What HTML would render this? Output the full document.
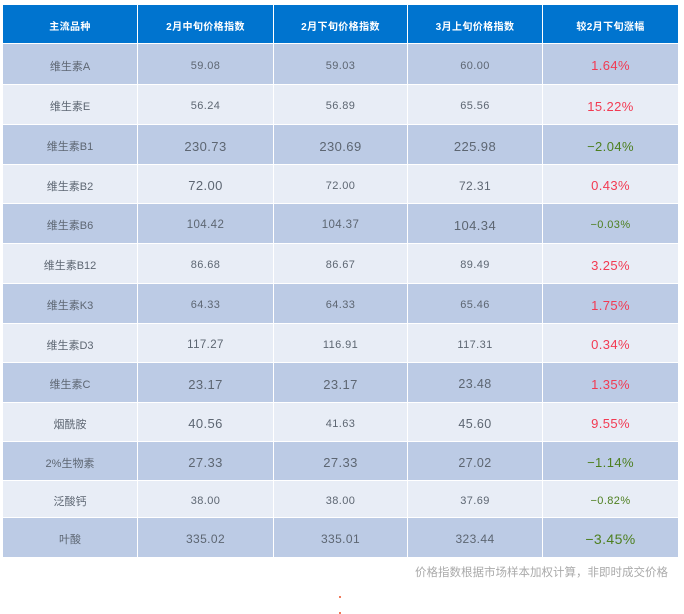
<!DOCTYPE html>
<html><head><meta charset="utf-8">
<style>
html,body{margin:0;padding:0;background:#fff;}
body{width:684px;height:614px;position:relative;overflow:hidden;font-family:"Liberation Sans","Noto Sans CJK SC",sans-serif;}
.c{position:absolute;display:flex;align-items:center;justify-content:center;color:#5d6672;font-size:11px;letter-spacing:0.4px;white-space:nowrap;box-sizing:border-box;padding-top:3px;}
.h{background:#0074cf;color:#fff;font-weight:bold;font-size:10px;letter-spacing:0.4px;padding-top:2px;}
.d{background:#bccbe5;}
.l{background:#e8edf6;}
.L{font-size:13px;}
.M{font-size:12px;}
.X{font-size:14px;}
.r{color:#f23a52;}
.g{color:#4d7f1f;}
.n{letter-spacing:0;}
.foot{position:absolute;right:16px;top:564px;text-align:right;font-size:11.5px;color:#aaaaaa;font-family:"Liberation Sans","Noto Sans CJK SC",sans-serif;white-space:nowrap;}
.dot{position:absolute;width:2px;height:2px;background:#f07a5a;}
</style></head><body>

<!-- header -->
<div class="c h" style="left:3px;top:5px;width:134px;height:38px">主流品种</div>
<div class="c h" style="left:138px;top:5px;width:135px;height:38px">2月中旬价格指数</div>
<div class="c h" style="left:274px;top:5px;width:133px;height:38px">2月下旬价格指数</div>
<div class="c h" style="left:408px;top:5px;width:134px;height:38px">3月上旬价格指数</div>
<div class="c h" style="left:543px;top:5px;width:135px;height:38px">较2月下旬涨幅</div>

<!-- row A -->
<div class="c d n" style="left:3px;top:44px;width:134px;height:40px">维生素A</div>
<div class="c d" style="left:138px;top:44px;width:135px;height:40px">59.08</div>
<div class="c d" style="left:274px;top:44px;width:133px;height:40px">59.03</div>
<div class="c d" style="left:408px;top:44px;width:134px;height:40px">60.00</div>
<div class="c d L r" style="left:543px;top:44px;width:135px;height:40px">1.64%</div>

<!-- row E -->
<div class="c l n" style="left:3px;top:85px;width:134px;height:39px">维生素E</div>
<div class="c l" style="left:138px;top:85px;width:135px;height:39px">56.24</div>
<div class="c l" style="left:274px;top:85px;width:133px;height:39px">56.89</div>
<div class="c l" style="left:408px;top:85px;width:134px;height:39px">65.56</div>
<div class="c l L r" style="left:543px;top:85px;width:135px;height:39px">15.22%</div>

<!-- row B1 -->
<div class="c d n" style="left:3px;top:125px;width:134px;height:39px">维生素B1</div>
<div class="c d L" style="left:138px;top:125px;width:135px;height:39px">230.73</div>
<div class="c d L" style="left:274px;top:125px;width:133px;height:39px">230.69</div>
<div class="c d L" style="left:408px;top:125px;width:134px;height:39px">225.98</div>
<div class="c d L g" style="left:543px;top:125px;width:135px;height:39px">−2.04%</div>

<!-- row B2 -->
<div class="c l n" style="left:3px;top:165px;width:134px;height:38px">维生素B2</div>
<div class="c l L" style="left:138px;top:165px;width:135px;height:38px">72.00</div>
<div class="c l" style="left:274px;top:165px;width:133px;height:38px">72.00</div>
<div class="c l M" style="left:408px;top:165px;width:134px;height:38px">72.31</div>
<div class="c l L r" style="left:543px;top:165px;width:135px;height:38px">0.43%</div>

<!-- row B6 -->
<div class="c d n" style="left:3px;top:204px;width:134px;height:39px">维生素B6</div>
<div class="c d" style="left:138px;top:204px;width:135px;height:39px;font-size:11.5px">104.42</div>
<div class="c d" style="left:274px;top:204px;width:133px;height:39px;font-size:11.5px">104.37</div>
<div class="c d L" style="left:408px;top:204px;width:134px;height:39px">104.34</div>
<div class="c d g" style="left:543px;top:204px;width:135px;height:39px">−0.03%</div>

<!-- row B12 -->
<div class="c l n" style="left:3px;top:244px;width:134px;height:39px">维生素B12</div>
<div class="c l" style="left:138px;top:244px;width:135px;height:39px">86.68</div>
<div class="c l" style="left:274px;top:244px;width:133px;height:39px">86.67</div>
<div class="c l" style="left:408px;top:244px;width:134px;height:39px">89.49</div>
<div class="c l L r" style="left:543px;top:244px;width:135px;height:39px">3.25%</div>

<!-- row K3 -->
<div class="c d n" style="left:3px;top:284px;width:134px;height:39px">维生素K3</div>
<div class="c d" style="left:138px;top:284px;width:135px;height:39px">64.33</div>
<div class="c d" style="left:274px;top:284px;width:133px;height:39px">64.33</div>
<div class="c d" style="left:408px;top:284px;width:134px;height:39px">65.46</div>
<div class="c d L r" style="left:543px;top:284px;width:135px;height:39px">1.75%</div>

<!-- row D3 -->
<div class="c l n" style="left:3px;top:324px;width:134px;height:38px">维生素D3</div>
<div class="c l" style="left:138px;top:324px;width:135px;height:38px;font-size:11.5px">117.27</div>
<div class="c l" style="left:274px;top:324px;width:133px;height:38px">116.91</div>
<div class="c l" style="left:408px;top:324px;width:134px;height:38px">117.31</div>
<div class="c l L r" style="left:543px;top:324px;width:135px;height:38px">0.34%</div>

<!-- row C -->
<div class="c d n" style="left:3px;top:363px;width:134px;height:39px">维生素C</div>
<div class="c d L" style="left:138px;top:363px;width:135px;height:39px">23.17</div>
<div class="c d L" style="left:274px;top:363px;width:133px;height:39px">23.17</div>
<div class="c d" style="left:408px;top:363px;width:134px;height:39px;font-size:12.5px">23.48</div>
<div class="c d L r" style="left:543px;top:363px;width:135px;height:39px">1.35%</div>

<!-- row 烟酰胺 -->
<div class="c l n" style="left:3px;top:403px;width:134px;height:38px">烟酰胺</div>
<div class="c l L" style="left:138px;top:403px;width:135px;height:38px">40.56</div>
<div class="c l" style="left:274px;top:403px;width:133px;height:38px">41.63</div>
<div class="c l" style="left:408px;top:403px;width:134px;height:38px;font-size:12.5px">45.60</div>
<div class="c l L r" style="left:543px;top:403px;width:135px;height:38px">9.55%</div>

<!-- row 2%生物素 -->
<div class="c d n" style="left:3px;top:442px;width:134px;height:38px">2%生物素</div>
<div class="c d L" style="left:138px;top:442px;width:135px;height:38px">27.33</div>
<div class="c d L" style="left:274px;top:442px;width:133px;height:38px">27.33</div>
<div class="c d" style="left:408px;top:442px;width:134px;height:38px;font-size:12.5px">27.02</div>
<div class="c d L g" style="left:543px;top:442px;width:135px;height:38px">−1.14%</div>

<!-- row 泛酸钙 -->
<div class="c l n" style="left:3px;top:481px;width:134px;height:36px">泛酸钙</div>
<div class="c l" style="left:138px;top:481px;width:135px;height:36px">38.00</div>
<div class="c l" style="left:274px;top:481px;width:133px;height:36px">38.00</div>
<div class="c l" style="left:408px;top:481px;width:134px;height:36px">37.69</div>
<div class="c l g" style="left:543px;top:481px;width:135px;height:36px">−0.82%</div>

<!-- row 叶酸 -->
<div class="c d n" style="left:3px;top:518px;width:134px;height:39px">叶酸</div>
<div class="c d M" style="left:138px;top:518px;width:135px;height:39px">335.02</div>
<div class="c d M" style="left:274px;top:518px;width:133px;height:39px">335.01</div>
<div class="c d M" style="left:408px;top:518px;width:134px;height:39px">323.44</div>
<div class="c d X g" style="left:543px;top:518px;width:135px;height:39px">−3.45%</div>

<div class="foot">价格指数根据市场样本加权计算，非即时成交价格</div>

<div class="dot" style="left:339px;top:596px"></div>
<div class="dot" style="left:339px;top:612px"></div>

</body></html>
